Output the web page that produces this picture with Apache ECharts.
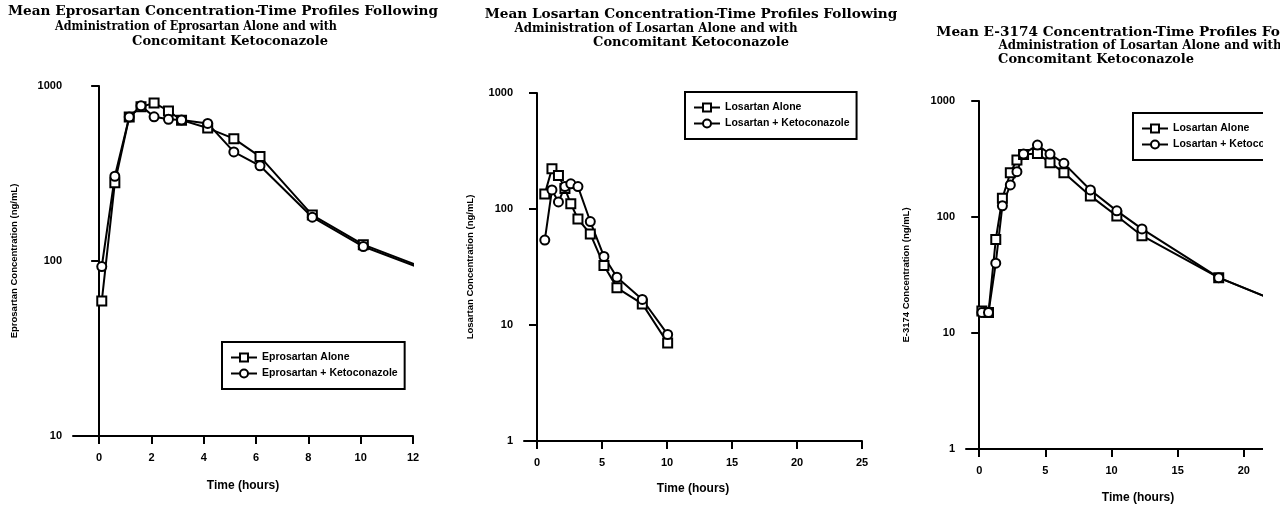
<!DOCTYPE html>
<html>
<head>
<meta charset="utf-8">
<script src="https://cdn.jsdelivr.net/npm/echarts@6/dist/echarts.min.js"></script>
<style>
html,body{margin:0;padding:0;background:#fff;overflow:hidden;width:1280px;height:509px;}
#chart{width:1330px;height:509px;}
</style>
</head>
<body>
<div id="chart"></div>
<script>
// ---- Panel 1: Eprosartan ----
const epTime  = [0.1, 0.6, 1.15, 1.6, 2.1, 2.65, 3.15, 4.15, 5.15, 6.15, 8.15, 10.1, 12.05];
const epAlone = [59, 280, 665, 760, 800, 720, 638, 575, 500, 395, 183, 124, 96];
const epKeto  = [93, 305, 665, 770, 667, 645, 640, 611, 420, 350, 178, 121, 94];

// ---- Panel 2: Losartan ----
const loTime  = [0.6, 1.15, 1.65, 2.15, 2.6, 3.15, 4.1, 5.15, 6.15, 8.1, 10.05];
const loAlone = [135, 222, 194, 150, 111, 82, 61, 32.6, 20.9, 15.2, 7.0];
const loKeto  = [54, 146, 115, 156, 165, 156, 78, 39, 25.8, 16.6, 8.3];

// ---- Panel 3: E-3174 ----
const e3Time  = [0.2, 0.7, 1.25, 1.75, 2.35, 2.85, 3.35, 4.4, 5.35, 6.4, 8.4, 10.4, 12.3, 18.1, 24];
const e3Alone = [15.5, 15, 64, 145, 241, 310, 345, 353, 294, 241, 152, 102, 69, 30, 16];
const e3Keto  = [15, 15, 40, 125, 189, 246, 350, 417, 349, 290, 171, 113, 79, 30, 16];

// ---- Tick labels ----
const ticks1 = [0, 2, 4, 6, 8, 10, 12];
const ticks23 = [0, 5, 10, 15, 20, 25];

// ---- Texts ----
const titles = [
  ['Mean Eprosartan Concentration-Time Profiles Following', 'Administration of Eprosartan Alone and with', 'Concomitant Ketoconazole'],
  ['Mean Losartan Concentration-Time Profiles Following', 'Administration of Losartan Alone and with', 'Concomitant Ketoconazole'],
  ['Mean E-3174 Concentration-Time Profiles Following', 'Administration of Losartan Alone and with', 'Concomitant Ketoconazole']
];
const yNames = ['Eprosartan Concentration (ng/mL)', 'Losartan Concentration (ng/mL)', 'E-3174 Concentration (ng/mL)'];
const xName = 'Time (hours)';
const legendNames = [
  ['Eprosartan Alone', 'Eprosartan + Ketoconazole'],
  ['Losartan Alone', 'Losartan + Ketoconazole'],
  ['Losartan Alone', 'Losartan + Ketoconazole']
];

const zip = (xs, ys) => xs.map((x, i) => [x, ys[i]]);

const SANS = 'Liberation Sans';
const SERIF = 'DejaVu Serif';

const grids = [
  {left: 73, top: 86, width: 340, height: 350},
  {left: 524, top: 93, width: 338, height: 348},
  {left: 966, top: 101, width: 344, height: 349}
];

function xAxis(idx, max, ticks, nameGap) {
  return {
    type: 'value', gridIndex: idx, min: -1, max: max,
    name: xName, nameLocation: 'middle', nameGap: nameGap,
    nameTextStyle: {fontFamily: SANS, fontWeight: 'bold', fontSize: 12, color: '#000'},
    axisLine: {show: true, onZero: false, lineStyle: {color: '#000', width: 2}},
    axisTick: {show: true, inside: false, length: 8, lineStyle: {color: '#000', width: 2}, customValues: ticks},
    axisLabel: {show: true, margin: 16, fontFamily: SANS, fontWeight: 'bold', fontSize: 11, color: '#000', customValues: ticks},
    splitLine: {show: false}
  };
}
function yAxis(idx, min, name, nameGap) {
  return {
    type: 'log', logBase: 10, gridIndex: idx, min: min, max: 1000,
    name: name, nameLocation: 'middle', nameGap: nameGap, nameRotate: 90,
    nameTextStyle: {fontFamily: SANS, fontWeight: 'bold', fontSize: 9.5, color: '#000'},
    axisLine: {show: true, lineStyle: {color: '#000', width: 2}},
    axisTick: {show: true, inside: false, length: 8, lineStyle: {color: '#000', width: 2}},
    axisLabel: {show: true, margin: 11, fontFamily: SANS, fontWeight: 'bold', fontSize: 11, color: '#000',
      formatter: v => String(Math.round(v))},
    minorTick: {show: false},
    splitLine: {show: false}
  };
}
function series(name, idx, data, symbol) {
  return {
    name: name, type: 'line', xAxisIndex: idx, yAxisIndex: idx, data: data,
    symbol: symbol, symbolSize: 9, showAllSymbol: true,
    lineStyle: {color: '#000', width: 2},
    itemStyle: {color: '#000', borderColor: '#000', borderWidth: 2},
    clip: true
  };
}
function legend(idx, left, top) {
  return {
    data: legendNames[idx], left: left, top: top, orient: 'vertical',
    selectedMode: false,
    itemWidth: 26, itemHeight: 10, itemGap: 5,
    padding: [10, 7, 10, 8],
    borderColor: '#000', borderWidth: 2, backgroundColor: '#fff',
    textStyle: {fontFamily: SANS, fontWeight: 'bold', fontSize: 10.5, color: '#000'}
  };
}

// title line centres / tops / horizontal squeeze to match the scanned lettering
const titleCenters = [[223, 196, 230], [691, 656, 691], [1136, 1140, 1096]];
const titleTops = [[5, 20, 35], [8, 22, 36], [26, 39, 53]];
const titleScale = [[1.05, 0.86, 1.0], [1.05, 0.91, 1.0], [1.05, 0.91, 1.0]];
const graphics = [];
titles.forEach((lines, p) => {
  lines.forEach((t, i) => {
    graphics.push({
      type: 'text', x: titleCenters[p][i], y: titleTops[p][i], z: 10, scaleX: titleScale[p][i],
      style: {text: t, font: 'bold 13px "' + SERIF + '"', fill: '#000', align: 'center', verticalAlign: 'top'}
    });
  });
});
// the reference scan is cut at the right edge of the third plot
graphics.push({type: 'rect', z: 100, shape: {x: 1263, y: 64, width: 80, height: 460}, style: {fill: '#fff'}});

const chart = echarts.init(document.getElementById('chart'), null, {renderer: 'canvas'});
chart.setOption({
  backgroundColor: '#fff',
  animation: false,
  grid: grids,
  xAxis: [xAxis(0, 12, ticks1, 44), xAxis(1, 25, ticks23, 42), xAxis(2, 25, ticks23, 43)],
  yAxis: [yAxis(0, 10, yNames[0], 54), yAxis(1, 1, yNames[1], 49), yAxis(2, 1, yNames[2], 55)],
  legend: [legend(0, 222, 342), legend(1, 685, 92), legend(2, 1133, 113)],
  series: [
    series(legendNames[0][0], 0, zip(epTime, epAlone), 'emptyRect'),
    series(legendNames[0][1], 0, zip(epTime, epKeto), 'emptyCircle'),
    series(legendNames[1][0], 1, zip(loTime, loAlone), 'emptyRect'),
    series(legendNames[1][1], 1, zip(loTime, loKeto), 'emptyCircle'),
    series(legendNames[2][0], 2, zip(e3Time, e3Alone), 'emptyRect'),
    series(legendNames[2][1], 2, zip(e3Time, e3Keto), 'emptyCircle')
  ],
  graphic: graphics
});
</script>
</body>
</html>
